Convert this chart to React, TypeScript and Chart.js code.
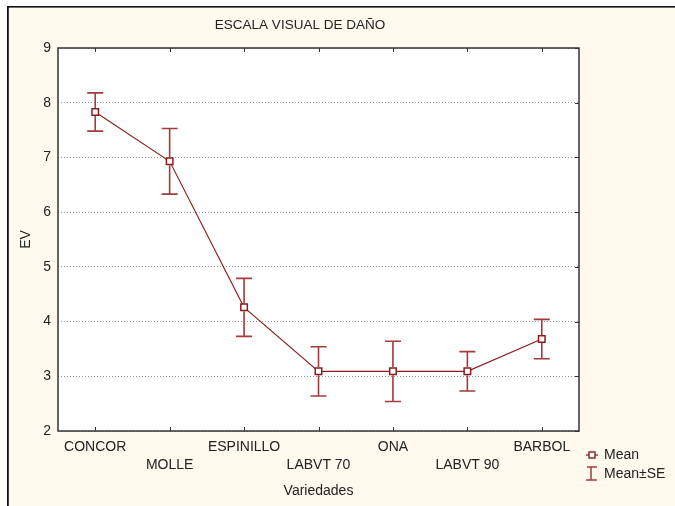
import React, { useEffect, useRef } from "react";
import { Chart, registerables } from "chart.js";

Chart.register(...registerables);

const categories = ["CONCOR", "MOLLE", "ESPINILLO", "LABVT 70", "ONA", "LABVT 90", "BARBOL"];
const means = [7.83, 6.93, 4.26, 3.09, 3.09, 3.09, 3.68];
const se = [0.35, 0.6, 0.53, 0.45, 0.55, 0.36, 0.36];
const yTicks = [2, 3, 4, 5, 6, 7, 8, 9];
const titleText = "ESCALA VISUAL DE DAÑO";
const xTitle = "Variedades";
const yTitle = "EV";
const legendMean = "Mean";
const legendSE = "Mean±SE";

const FONT = "'Liberation Sans', Arial, sans-serif";
const LINE = "#8B1C1C";
const ERR = "#A23C3C";
const CREAM = "#FFF9EE";

const decorPlugin = {
  id: "decor",
  beforeDraw(chart: any) {
    const { ctx, width, height, chartArea } = chart;
    ctx.save();
    ctx.fillStyle = "#FFFFFF";
    ctx.fillRect(0, 0, width, height);
    ctx.fillStyle = CREAM;
    ctx.fillRect(9, 7.5, width - 9, height - 7.5);
    ctx.fillStyle = "#111";
    ctx.fillRect(7, 6, width - 7, 1.6);
    ctx.fillRect(7, 6, 1.8, height - 6);
    ctx.fillStyle = "#FFFFFF";
    ctx.fillRect(chartArea.left, chartArea.top, chartArea.right - chartArea.left, chartArea.bottom - chartArea.top);
    ctx.restore();
  },
  afterDatasetsDraw(chart: any) {
    const { ctx, chartArea } = chart;
    const x = chart.scales.x;
    const y = chart.scales.y;
    ctx.save();
    // error bars
    ctx.strokeStyle = ERR;
    ctx.lineWidth = 1.6;
    means.forEach((m, i) => {
      const px = x.getPixelForValue(i);
      const top = y.getPixelForValue(m + se[i]);
      const bot = y.getPixelForValue(m - se[i]);
      const mp = y.getPixelForValue(m);
      ctx.beginPath();
      ctx.moveTo(px, top);
      ctx.lineTo(px, mp - 4);
      ctx.moveTo(px, mp + 4);
      ctx.lineTo(px, bot);
      ctx.moveTo(px - 8, top);
      ctx.lineTo(px + 8, top);
      ctx.moveTo(px - 8, bot);
      ctx.lineTo(px + 8, bot);
      ctx.stroke();
    });
    // plot frame
    ctx.strokeStyle = "#333";
    ctx.lineWidth = 1.5;
    ctx.strokeRect(chartArea.left, chartArea.top, chartArea.right - chartArea.left, chartArea.bottom - chartArea.top);
    ctx.lineWidth = 1;
    ctx.beginPath();
    categories.forEach((_, i) => {
      const px = Math.round(x.getPixelForValue(i)) + 0.5;
      ctx.moveTo(px, chartArea.top);
      ctx.lineTo(px, chartArea.top + 4);
      ctx.moveTo(px, chartArea.bottom);
      ctx.lineTo(px, chartArea.bottom - 4);
    });
    yTicks.forEach((v) => {
      const py = Math.round(y.getPixelForValue(v)) + 0.5;
      ctx.moveTo(chartArea.right, py);
      ctx.lineTo(chartArea.right - 4, py);
    });
    ctx.stroke();
    // title
    ctx.fillStyle = "#222";
    ctx.font = `13.5px ${FONT}`;
    ctx.textAlign = "center";
    ctx.textBaseline = "middle";
    ctx.fillText(titleText, 300, 25.5);
    // legend
    const lx = chartArea.right + 13;
    const ly1 = 455;
    const ly2 = 474;
    ctx.strokeStyle = LINE;
    ctx.lineWidth = 1.2;
    ctx.beginPath();
    ctx.moveTo(lx - 6, ly1);
    ctx.lineTo(lx + 6, ly1);
    ctx.stroke();
    ctx.fillStyle = "#fff";
    ctx.fillRect(lx - 3, ly1 - 3, 6, 6);
    ctx.lineWidth = 1.4;
    ctx.strokeRect(lx - 3, ly1 - 3, 6, 6);
    ctx.strokeStyle = ERR;
    ctx.lineWidth = 1.5;
    ctx.beginPath();
    ctx.moveTo(lx - 5, ly2 - 7);
    ctx.lineTo(lx + 5, ly2 - 7);
    ctx.moveTo(lx - 1, ly2 - 7);
    ctx.lineTo(lx - 1, ly2 + 6);
    ctx.moveTo(lx - 6, ly2 + 6);
    ctx.lineTo(lx + 5, ly2 + 6);
    ctx.stroke();
    ctx.fillStyle = "#222";
    ctx.font = `14px ${FONT}`;
    ctx.textAlign = "left";
    ctx.fillText(legendMean, chartArea.right + 25, ly1);
    ctx.fillText(legendSE, chartArea.right + 25, ly2);
    ctx.restore();
  },
};

export default function App() {
  const ref = useRef<HTMLCanvasElement>(null);
  useEffect(() => {
    if (!ref.current) return;
    const labels = categories.map((c, i) => (i % 2 === 0 ? [c, ""] : ["", c]));
    const chart = new Chart(ref.current, {
      type: "line",
      data: {
        labels,
        datasets: [
          {
            data: means,
            borderColor: LINE,
            borderWidth: 1.1,
            pointStyle: "rect",
            pointRadius: 4.6,
            pointBorderWidth: 1.5,
            pointBackgroundColor: "#FFFFFF",
            pointBorderColor: LINE,
            tension: 0,
          },
        ],
      },
      options: {
        animation: false,
        responsive: false,
        devicePixelRatio: 1,
        layout: { padding: { left: 0, right: 96, top: 48, bottom: 0 } },
        plugins: { legend: { display: false }, tooltip: { enabled: false }, title: { display: false } },
        scales: {
          x: {
            type: "category",
            offset: true,
            grid: { display: false, drawTicks: false },
            border: { display: false },
            ticks: {
              autoSkip: false,
              maxRotation: 0,
              padding: 7,
              color: "#222",
              font: { family: FONT, size: 14, lineHeight: 1.29 },
            },
            title: {
              display: true,
              text: xTitle,
              color: "#222",
              font: { family: FONT, size: 14, lineHeight: 1.2 },
              padding: { top: 0, bottom: 6.6 },
            },
            afterFit(scale: any) {
              scale.height = 75;
            },
          },
          y: {
            min: 2,
            max: 9,
            afterBuildTicks(scale: any) {
              scale.ticks = yTicks.map((v) => ({ value: v }));
            },
            grid: {
              color: "#9A9A9A",
              lineWidth: 1,
              drawTicks: false,
              tickBorderDash: [1, 2],
            },
            border: { display: false, dash: [1, 2] },
            ticks: {
              padding: 7,
              color: "#222",
              font: { family: FONT, size: 14 },
            },
            title: {
              display: true,
              text: yTitle,
              color: "#222",
              font: { family: FONT, size: 14, lineHeight: 1.2 },
              padding: { top: 17.6, bottom: 0 },
            },
            afterFit(scale: any) {
              scale.width = 58;
            },
          },
        },
      },
      plugins: [decorPlugin],
    });
    return () => chart.destroy();
  }, []);
  return (
    <div style={{ position: "absolute", left: 0, top: 0 }}>
      <canvas ref={ref} width={675} height={506} style={{ display: "block" }} />
    </div>
  );
}
